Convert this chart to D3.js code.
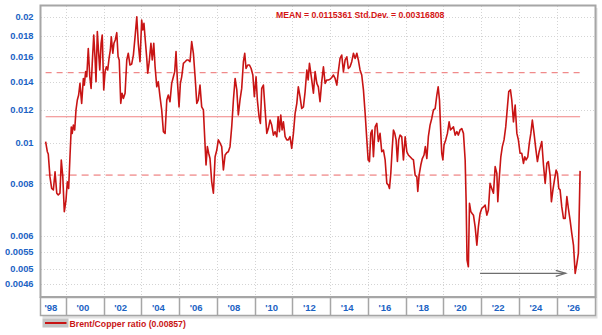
<!DOCTYPE html>
<html><head><meta charset="utf-8">
<script src="https://cdn.jsdelivr.net/npm/d3@7"></script>
<style>html,body{margin:0;padding:0;background:#fff;} svg{display:block;font-family:"Liberation Sans",Arial,sans-serif;}</style>
</head><body><svg id="c" width="602" height="335"></svg>
<script>
// ---- data (decimal year, ratio) ----
const years=[1997.92,1998.01,1998.06,1998.15,1998.24,1998.33,1998.42,1998.51,1998.59,1998.68,
1998.75,1998.83,1998.91,1999.00,1999.07,1999.14,1999.21,1999.28,1999.33,1999.39,
1999.46,1999.53,1999.60,1999.67,1999.74,1999.83,1999.92,1999.97,2000.04,2000.10,
2000.18,2000.26,2000.33,2000.39,2000.47,2000.54,2000.59,2000.66,2000.73,2000.79,
2000.86,2000.92,2001.00,2001.07,2001.14,2001.21,2001.28,2001.35,2001.40,2001.48,
2001.54,2001.61,2001.69,2001.76,2001.82,2001.90,2001.97,2002.04,2002.13,2002.22,
2002.30,2002.39,2002.48,2002.57,2002.66,2002.75,2002.83,2002.92,2003.01,2003.07,
2003.13,2003.20,2003.28,2003.33,2003.41,2003.50,2003.57,2003.65,2003.72,2003.81,
2003.89,2003.98,2004.07,2004.16,2004.25,2004.34,2004.42,2004.51,2004.60,2004.69,
2004.76,2004.83,2004.90,2004.99,2005.06,2005.13,2005.22,2005.31,2005.40,2005.48,
2005.57,2005.66,2005.75,2005.84,2005.93,2006.01,2006.10,2006.19,2006.28,2006.33,
2006.42,2006.49,2006.56,2006.63,2006.72,2006.81,2006.90,2006.99,2007.07,2007.16,
2007.25,2007.34,2007.43,2007.52,2007.60,2007.69,2007.78,2007.87,2007.96,2008.05,
2008.13,2008.22,2008.31,2008.40,2008.47,2008.54,2008.63,2008.72,2008.81,2008.90,
2008.98,2009.07,2009.14,2009.23,2009.30,2009.37,2009.46,2009.55,2009.64,2009.72,
2009.81,2009.90,2009.99,2010.08,2010.17,2010.24,2010.31,2010.38,2010.45,2010.52,
2010.61,2010.70,2010.78,2010.87,2010.96,2011.05,2011.14,2011.23,2011.31,2011.40,
2011.49,2011.58,2011.67,2011.76,2011.83,2011.90,2012.02,2012.11,2012.20,2012.29,
2012.37,2012.46,2012.55,2012.64,2012.73,2012.82,2012.90,2012.99,2013.08,2013.17,
2013.26,2013.35,2013.43,2013.52,2013.61,2013.70,2013.79,2013.88,2013.96,2014.05,
2014.14,2014.23,2014.32,2014.41,2014.49,2014.58,2014.67,2014.76,2014.85,2014.94,
2015.01,2015.08,2015.15,2015.22,2015.29,2015.38,2015.47,2015.55,2015.64,2015.73,
2015.82,2015.91,2016.00,2016.08,2016.14,2016.21,2016.28,2016.35,2016.42,2016.49,
2016.56,2016.63,2016.70,2016.79,2016.88,2016.97,2017.06,2017.14,2017.23,2017.32,
2017.41,2017.50,2017.59,2017.64,2017.71,2017.80,2017.88,2017.97,2018.04,2018.12,
2018.20,2018.29,2018.38,2018.47,2018.56,2018.65,2018.72,2018.79,2018.86,2018.91,
2018.97,2019.03,2019.12,2019.21,2019.30,2019.37,2019.44,2019.53,2019.62,2019.71,
2019.79,2019.88,2019.97,2020.06,2020.15,2020.20,2020.25,2020.32,2020.38,2020.45,
2020.52,2020.59,2020.68,2020.77,2020.85,2020.94,2021.03,2021.12,2021.21,2021.30,
2021.38,2021.47,2021.56,2021.65,2021.74,2021.83,2021.88,2021.95,2022.04,2022.12,
2022.21,2022.30,2022.39,2022.46,2022.55,2022.62,2022.71,2022.80,2022.89,2022.97,
2023.06,2023.15,2023.24,2023.31,2023.38,2023.47,2023.55,2023.63,2023.71,2023.80,
2023.89,2023.98,2024.07,2024.14,2024.21,2024.30,2024.39,2024.48,2024.56,2024.65,
2024.72,2024.80,2024.88,2024.97,2025.04,2025.11,2025.18,2025.27,2025.36,2025.45,
2025.54,2025.62,2025.71,2025.80,2025.89,2025.98,2026.07,2026.15,2026.24];

const ratio=[0.01007,0.00952,0.00940,0.00829,0.00778,0.00772,0.00853,0.00758,0.00751,0.00758,0.00910,0.00829,0.00685,
0.00730,0.00807,0.00778,0.00926,0.01091,0.01053,0.01102,0.01073,0.01198,0.01265,0.01300,0.01386,0.01242,0.01424,0.01373,0.01478,0.01437,
0.01679,0.01437,0.01348,0.01547,0.01808,0.01589,0.01399,0.01842,0.01635,0.01492,0.01727,0.01808,0.01337,0.01478,0.01518,0.01492,0.01589,0.01665,0.01791,0.01635,
0.01727,0.01759,0.01831,0.01604,0.01576,0.01242,0.01313,0.01276,0.01313,0.01576,0.01635,0.01533,0.01541,0.01619,0.01791,0.01998,0.01727,0.01561,0.01963,0.01859,
0.01927,0.01759,0.01589,0.01465,0.01561,0.01727,0.01576,0.01727,0.01518,0.01360,0.01399,0.01288,0.01198,0.01063,0.01053,0.01265,0.01300,0.01253,0.01386,0.01437,
0.01478,0.01650,0.01412,0.01218,0.01386,0.01437,0.01547,0.01561,0.01576,0.01576,0.01561,0.01743,0.01635,0.01437,0.01242,0.01265,0.01373,0.01218,0.01198,0.01073,
0.00885,0.00979,0.00944,0.00917,0.00807,0.00758,0.00926,0.00961,0.01016,0.00999,0.00979,0.00861,0.00935,0.00947,0.00952,0.00979,0.01091,0.01265,0.01424,0.01337,
0.01165,0.01265,0.01348,0.01561,0.01635,0.01504,0.01533,0.01533,0.01504,0.01451,0.01288,0.01437,0.01265,0.01154,0.01112,0.01348,0.01373,0.01198,0.01053,0.01081,
0.01133,0.01102,0.01043,0.01063,0.01034,0.01154,0.01063,0.01165,0.01073,0.01122,0.01034,0.01016,0.01016,0.01034,0.00970,0.01053,0.01176,0.01242,0.01360,0.01288,
0.01207,0.01218,0.01325,0.01492,0.01412,0.01547,0.01412,0.01313,0.01478,0.01386,0.01360,0.01253,0.01399,0.01518,0.01386,0.01412,0.01412,0.01417,0.01432,0.01451,
0.01424,0.01373,0.01478,0.01589,0.01619,0.01478,0.01576,0.01604,0.01504,0.01518,0.01561,0.01635,0.01589,0.01635,0.01576,0.01492,0.01451,0.01337,0.01176,0.01016,
0.00910,0.00902,0.01053,0.01073,0.00926,0.01091,0.01112,0.01007,0.01053,0.00952,0.00961,0.00910,0.00800,0.00793,0.00778,0.00845,0.00961,0.01073,0.01053,0.01016,
0.00902,0.01016,0.01043,0.01034,0.00910,0.01034,0.00952,0.00935,0.00926,0.00917,0.00910,0.00837,0.00829,0.00765,0.00837,0.00885,0.00917,0.00935,0.00979,0.00917,
0.01034,0.01102,0.01143,0.01198,0.01207,0.01300,0.01360,0.01265,0.01053,0.00944,0.00910,0.00988,0.01016,0.01053,0.01122,0.01073,0.01081,0.01091,0.01043,0.01063,
0.01043,0.01073,0.01081,0.01053,0.00910,0.00730,0.00525,0.00506,0.00717,0.00685,0.00678,0.00672,0.00630,0.00570,0.00630,0.00678,0.00697,0.00703,0.00710,0.00672,
0.00691,0.00800,0.00778,0.00758,0.00877,0.00845,0.00723,0.00815,0.00926,0.00979,0.01016,0.01091,0.01218,0.01325,0.01337,0.01265,0.01122,0.01230,0.01053,0.01016,
0.00944,0.00944,0.00893,0.00926,0.00910,0.00926,0.00998,0.01053,0.01133,0.01053,0.00970,0.00902,0.00952,0.00979,0.01007,0.00885,0.00800,0.00893,0.00902,0.00837,
0.00723,0.00772,0.00815,0.00861,0.00845,0.00778,0.00772,0.00703,0.00660,0.00660,0.00744,0.00697,0.00654,0.00608,0.00570,0.00488,0.00515,0.00545,0.00857];

const MEAN=0.0115361, STD=0.00316808;
const yTicks=[0.02,0.018,0.016,0.014,0.012,0.01,0.008,0.006,0.0055,0.005,0.0046];
const yTickLabels=["0.02","0.018","0.016","0.014","0.012","0.01","0.008","0.006","0.0055","0.005","0.0046"];
const xLabelYears=[1998,2000,2002,2004,2006,2008,2010,2012,2014,2016,2018,2020,2022,2024,2026];
const xLabels=["'98","'00","'02","'04","'06","'08","'10","'12","'14","'16","'18","'20","'22","'24","'26"];
const gridYears=[1999,2001,2003,2005,2007,2009,2011,2013,2015,2017,2019,2021,2023,2025];
const arrowYears=[2020.94,2025.48], arrowLevel=0.00488;
const seriesName="Brent/Copper ratio", lastValue="0.00857";
const statsText="MEAN = 0.0115361 Std.Dev. = 0.00316808";

// ---- layout ----
const L=40,R=595,T=6,B=297,bandTop=297.5,bandBot=315.5;
const x=d3.scaleLinear().domain([1997.622,2027.03]).range([L,R]);
const y=d3.scaleLog().domain([0.004286,0.0212]).range([B,T]);
const svg=d3.select("#c");
const blue="#1b63c4", red="#c81414";

// shadow + backgrounds
svg.append("rect").attr("x",L+2.5).attr("y",T+2).attr("width",R-L).attr("height",bandBot-T+1).attr("fill","#e2e2e2");
svg.append("rect").attr("x",L).attr("y",T-0.5).attr("width",R-L).attr("height",B-T+0.5).attr("fill","#fff");

// grid
svg.append("g").selectAll("line").data(yTicks).join("line")
  .attr("x1",L+1).attr("x2",R-1).attr("y1",d=>Math.round(y(d))+0.5).attr("y2",d=>Math.round(y(d))+0.5)
  .attr("stroke","#d4d4d4").attr("stroke-dasharray","1,2");
svg.append("g").selectAll("line").data(gridYears).join("line")
  .attr("x1",d=>Math.round(x(d))+0.5).attr("x2",d=>Math.round(x(d))+0.5).attr("y1",T).attr("y2",B)
  .attr("stroke","#d4d4d4").attr("stroke-dasharray","1,2");

// statistics lines
const x0=x(years[0]), x1=x(years[years.length-1]);
svg.append("line").attr("x1",x0).attr("x2",x1).attr("y1",y(MEAN)).attr("y2",y(MEAN))
  .attr("stroke","#f08282").attr("stroke-width",1.2);
svg.append("line").attr("x1",x0).attr("x2",x1).attr("y1",y(MEAN+STD)).attr("y2",y(MEAN+STD))
  .attr("stroke","#f08a8a").attr("stroke-width",1.2).attr("stroke-dasharray","6,5");
svg.append("line").attr("x1",x0).attr("x2",x1).attr("y1",y(MEAN-STD)).attr("y2",y(MEAN-STD))
  .attr("stroke","#f4a8a8").attr("stroke-width",1.8).attr("stroke-dasharray","7,5");

// series
const data=years.map((t,i)=>({t,v:ratio[i]}));
svg.append("path").datum(data)
  .attr("d",d3.line().x(d=>x(d.t)).y(d=>y(d.v)))
  .attr("fill","none").attr("stroke",red).attr("stroke-width",1.6).attr("stroke-linejoin","round");

// arrow annotation
const ay=y(arrowLevel), ax0=x(arrowYears[0]), ax1=x(arrowYears[1]);
svg.append("line").attr("x1",ax0).attr("x2",ax1).attr("y1",ay).attr("y2",ay)
  .attr("stroke","#6e6e6e").attr("stroke-width",1.3);
svg.append("path").attr("d",`M${ax1-10},${ay-3}L${ax1},${ay}L${ax1-10},${ay+3}`)
  .attr("fill","none").attr("stroke","#6e6e6e").attr("stroke-width",1.2);

// frame
svg.append("rect").attr("x",L+0.5).attr("y",T-0.5).attr("width",R-L).attr("height",B-T+0.5)
  .attr("fill","none").attr("stroke","#a6a6a6").attr("stroke-width",2);

// x band
svg.append("rect").attr("x",L+0.5).attr("y",bandTop).attr("width",R-L).attr("height",bandBot-bandTop)
  .attr("fill","#fff").attr("stroke","#a6a6a6").attr("stroke-width",1.5);
svg.append("g").selectAll("line").data(gridYears).join("line")
  .attr("x1",d=>Math.round(x(d))+0.5).attr("x2",d=>Math.round(x(d))+0.5).attr("y1",bandTop).attr("y2",bandBot)
  .attr("stroke","#a6a6a6").attr("stroke-width",1.5);
svg.append("g").selectAll("text").data(xLabelYears).join("text")
  .attr("x",d=>{const a=Math.max(x(d-1),L), b=Math.min(x(d+1),R); return (a+b)/2-2;})
  .attr("y",310.5).attr("text-anchor","middle")
  .attr("font-size","9.5px").attr("font-weight","bold").attr("fill",blue)
  .text((d,i)=>xLabels[i]);

// y labels
svg.append("g").selectAll("text").data(yTicks).join("text")
  .attr("x",33.5).attr("y",d=>y(d)).attr("dy","0.35em").attr("text-anchor","end")
  .attr("font-size","9.3px").attr("font-weight","bold").attr("fill",blue)
  .text((d,i)=>yTickLabels[i]);

// stats title
svg.append("text").attr("x",276).attr("y",18).attr("font-size","8.7px").attr("font-weight","bold")
  .attr("fill","#d41515").text(statsText);

// legend
svg.append("rect").attr("x",42.5).attr("y",318.5).attr("width",26).attr("height",9).attr("fill","#c4c4c4");
svg.append("line").attr("x1",45).attr("x2",66.5).attr("y1",323).attr("y2",323).attr("stroke",red).attr("stroke-width",2);
svg.append("text").attr("x",69.5).attr("y",326.5).attr("font-size","8.7px").attr("font-weight","bold")
  .attr("fill",red).text(`${seriesName} (${lastValue})`);
</script></body></html>
